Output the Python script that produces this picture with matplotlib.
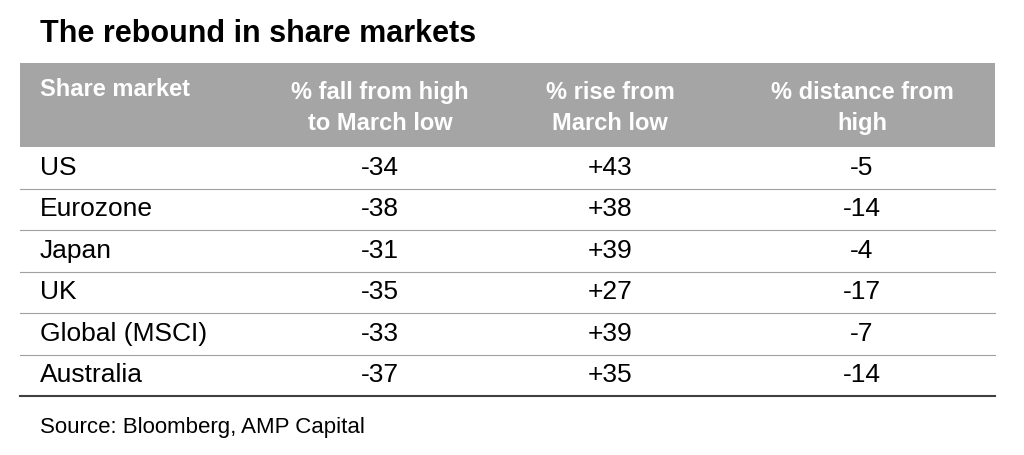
import matplotlib.pyplot as plt

plt.rcParams['font.family'] = ['Liberation Sans', 'DejaVu Sans']

title = "The rebound in share markets"
headers = ["Share market", "% fall from high\nto March low", "% rise from\nMarch low", "% distance from\nhigh"]
markets = ["US", "Eurozone", "Japan", "UK", "Global (MSCI)", "Australia"]
fall = ["-34", "-38", "-31", "-35", "-33", "-37"]
rise = ["+43", "+38", "+39", "+27", "+39", "+35"]
distance = ["-5", "-14", "-4", "-17", "-7", "-14"]
source = "Source: Bloomberg, AMP Capital"

fig = plt.figure(figsize=(10.24, 4.55), dpi=100)
ax = fig.add_axes([0, 0, 1, 1])
ax.set_xlim(0, 1024)
ax.set_ylim(455, 0)
ax.axis('off')

ax.text(40, 34, title, fontsize=22, fontweight='bold', va='center', ha='left')

# header band
ax.fill_between([20, 995], 63, 147, color='#a5a5a5', lw=0)
col_x = [40, 380, 610, 862]
for i, h in enumerate(headers):
    if i == 0:
        ax.text(col_x[i], 90, h, fontsize=17, fontweight='bold', color='white',
                ha='left', va='center')
    else:
        ax.text(col_x[i], 108, h, fontsize=17, fontweight='bold', color='white',
                ha='center', va='center', linespacing=1.45)

row_top = 147
row_h = 41.5
for r, m in enumerate(markets):
    yc = row_top + row_h * (r + 0.5)
    vals = [m, fall[r], rise[r], distance[r]]
    for i, v in enumerate(vals):
        ax.text(col_x[i], yc, v, fontsize=19, ha='left' if i == 0 else 'center', va='center')
    yl = row_top + row_h * (r + 1)
    if r < len(markets) - 1:
        ax.plot([20, 995], [yl, yl], color='#a0a0a0', lw=0.8)
    else:
        ax.plot([20, 995], [yl, yl], color='#404040', lw=1.5)

ax.text(40, 428, source, fontsize=16, ha='left', va='center')

fig.savefig('out.png', dpi=100)
